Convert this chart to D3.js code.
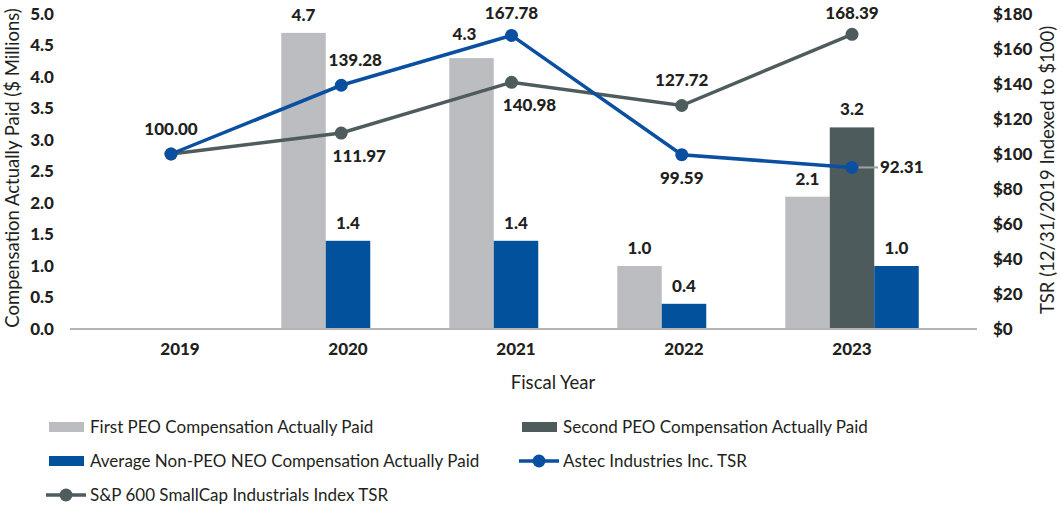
<!DOCTYPE html>
<meta charset="utf-8">
<style>

body {
  margin: 0;
  background: #fff;
}

text {
  font-family: Lato, "Open Sans", sans-serif;
  fill: #231f20;
}

.val {
  font-size: 17px;
  font-weight: 900;
}

.tick-label {
  font-size: 17px;
  font-weight: 900;
}

.title {
  font-size: 18.5px;
}

.legend-text {
  font-size: 17px;
}

</style>
<svg width="1061" height="507"></svg>
<script src="https://d3js.org/d3.v7.min.js"></script>
<script>

let years = ['2019', '2020', '2021', '2022', '2023'];
let firstPeo = [null, 4.7, 4.3, 1.0, 2.1];
let secondPeo = [null, null, null, null, 3.2];
let nonPeoAvg = [null, 1.4, 1.4, 0.4, 1.0];
let astecTsr = [100.00, 139.28, 167.78, 99.59, 92.31];
let spTsr = [100.00, 111.97, 140.98, 127.72, 168.39];
let leftTicks = [0, 0.5, 1, 1.5, 2, 2.5, 3, 3.5, 4, 4.5, 5];
let rightTicks = [0, 20, 40, 60, 80, 100, 120, 140, 160, 180];

// where each line value label sits relative to its dot
let astecLabelPos = ['above', 'aboveRight', 'above', 'below', 'right'];
let spLabelPos = [null, 'belowRight', 'belowRight', 'above', 'above'];

let colors = {
  first: '#bcbdc1',
  second: '#4d5b5d',
  nonPeo: '#02519c',
  astec: '#0b4fa1',
  sp: '#4f5c5e'
};

let svg = d3.select('svg');

let x = d3.scaleBand().domain(years).range([96, 936]);
let xLine = d3.scalePoint().domain(years).range([171, 852]);
let yLeft = d3.scaleLinear().domain([0, 5]).range([329, 14]);
let yRight = d3.scaleLinear().domain([0, 180]).range([329, 14]);
let barW = 44.5;

// bars: the present series in each year are packed from the left of a 3-slot group
let series = [
  { key: 'first', values: firstPeo },
  { key: 'second', values: secondPeo },
  { key: 'nonPeo', values: nonPeoAvg }
];
let bars = [];
years.forEach((yr, i) => {
  let present = series.filter(s => s.values[i] != null);
  present.forEach((s, j) => {
    bars.push({ year: yr, key: s.key, value: s.values[i], slot: j });
  });
});

let barX = d => x(d.year) + x.bandwidth() / 2 - 1.5 * barW + d.slot * barW;

svg.append('g').selectAll('rect')
  .data(bars)
  .join('rect')
    .attr('x', barX)
    .attr('y', d => yLeft(d.value))
    .attr('width', barW)
    .attr('height', d => yLeft(0) - yLeft(d.value))
    .attr('fill', d => colors[d.key]);

svg.append('g').selectAll('text')
  .data(bars)
  .join('text')
    .attr('class', 'val')
    .attr('text-anchor', 'middle')
    .attr('x', d => barX(d) + barW / 2 - (d.year === '2021' && d.key === 'first' ? 7 : 0))
    .attr('y', d => yLeft(d.value) - (d.year === '2021' && d.key === 'first' ? 18 : 12))
    .text(d => d.value.toFixed(1));

// baseline
svg.append('line')
  .attr('x1', 70).attr('x2', 977)
  .attr('y1', yLeft(0)).attr('y2', yLeft(0))
  .attr('stroke', '#b3b3b3')
  .attr('stroke-width', 2);

// left axis
let leftAxis = d3.axisLeft(yLeft).tickValues(leftTicks).tickSize(0).tickPadding(0)
  .tickFormat(d3.format('.1f'));
let gl = svg.append('g').attr('transform', 'translate(54,0)').call(leftAxis);
gl.select('.domain').remove();
gl.selectAll('text').attr('class', 'tick-label').attr('fill', '#231f20');

// right axis
let rightAxis = d3.axisRight(yRight).tickValues(rightTicks).tickSize(0).tickPadding(0)
  .tickFormat(d => '$' + d);
let gr = svg.append('g').attr('transform', 'translate(993,0)').call(rightAxis);
gr.select('.domain').remove();
gr.selectAll('text').attr('class', 'tick-label').attr('fill', '#231f20');

// x axis labels
let xAxis = d3.axisBottom(x).tickSize(0).tickPadding(0);
let gx = svg.append('g').attr('transform', 'translate(0,343)').call(xAxis);
gx.select('.domain').remove();
gx.selectAll('text').attr('class', 'tick-label').attr('fill', '#231f20').attr('dy', '0.71em');

// axis titles
svg.append('text').attr('class', 'title')
  .attr('transform', 'translate(19,168) rotate(-90)')
  .attr('text-anchor', 'middle')
  .text('Compensation Actually Paid ($ Millions)');

svg.append('text').attr('class', 'title')
  .attr('transform', 'translate(1054,170) rotate(-90)')
  .attr('text-anchor', 'middle')
  .text('TSR (12/31/2019 Indexed to $100)');

svg.append('text').attr('class', 'title')
  .attr('x', 553).attr('y', 389)
  .attr('text-anchor', 'middle')
  .text('Fiscal Year');

// lines
let line = d3.line().x((d, i) => xLine(years[i])).y(d => yRight(d));

let lines = [
  { key: 'sp', values: spTsr, pos: spLabelPos },
  { key: 'astec', values: astecTsr, pos: astecLabelPos }
];

// leader line for the 2023 Astec label
svg.append('line')
  .attr('x1', xLine('2023')).attr('x2', xLine('2023') + 26)
  .attr('y1', yRight(astecTsr[4])).attr('y2', yRight(astecTsr[4]))
  .attr('stroke', '#a0a0a0').attr('stroke-width', 2);

lines.forEach(s => {
  svg.append('path')
    .datum(s.values)
    .attr('fill', 'none')
    .attr('stroke', colors[s.key])
    .attr('stroke-width', 3.5)
    .attr('d', line);

  svg.append('g').selectAll('circle')
    .data(s.values)
    .join('circle')
      .attr('cx', (d, i) => xLine(years[i]))
      .attr('cy', d => yRight(d))
      .attr('r', 6.5)
      .attr('fill', colors[s.key]);
});

lines.forEach(s => {
  let labels = s.values.map((v, i) => ({ v, i, pos: s.pos[i] })).filter(d => d.pos);
  svg.append('g').selectAll('text')
    .data(labels)
    .join('text')
      .attr('class', 'val')
      .attr('text-anchor', d => d.pos === 'right' ? 'start' : 'middle')
      .attr('x', d => {
        let cx = xLine(years[d.i]);
        if (d.pos === 'right') return cx + 28;
        if (d.pos === 'aboveRight') return cx + 14;
        if (d.pos === 'belowRight') return cx + 18;
        return cx;
      })
      .attr('y', d => {
        let cy = yRight(d.v);
        if (d.pos === 'right') return cy + 6;
        if (d.pos.startsWith('below')) return cy + 29;
        return Math.max(19, cy - 19);
      })
      .text(d => d.v.toFixed(2));
});

// legend
let legendItems = [
  { label: 'First PEO Compensation Actually Paid', type: 'bar', key: 'first', col: 0, row: 0 },
  { label: 'Second PEO Compensation Actually Paid', type: 'bar', key: 'second', col: 1, row: 0 },
  { label: 'Average Non-PEO NEO Compensation Actually Paid', type: 'bar', key: 'nonPeo', col: 0, row: 1 },
  { label: 'Astec Industries Inc. TSR', type: 'line', key: 'astec', col: 1, row: 1 },
  { label: 'S&P 600 SmallCap Industrials Index TSR', type: 'line', key: 'sp', col: 0, row: 2 }
];

let lg = svg.append('g').selectAll('g')
  .data(legendItems)
  .join('g')
    .attr('transform', d => 'translate(' + (d.col ? 521 : 48) + ',' + (427 + d.row * 34) + ')');

lg.filter(d => d.type === 'bar').append('rect')
  .attr('x', 1).attr('y', -5).attr('width', 35).attr('height', 10)
  .attr('fill', d => colors[d.key]);

lg.filter(d => d.type === 'line').append('line')
  .attr('x1', -2).attr('x2', 38).attr('y1', 0).attr('y2', 0)
  .attr('stroke', d => colors[d.key]).attr('stroke-width', 3.5);

lg.filter(d => d.type === 'line').append('circle')
  .attr('cx', 18).attr('cy', 0).attr('r', 6.5)
  .attr('fill', d => colors[d.key]);

lg.append('text')
  .attr('class', 'legend-text')
  .attr('x', 42).attr('y', 6)
  .text(d => d.label);

</script>
